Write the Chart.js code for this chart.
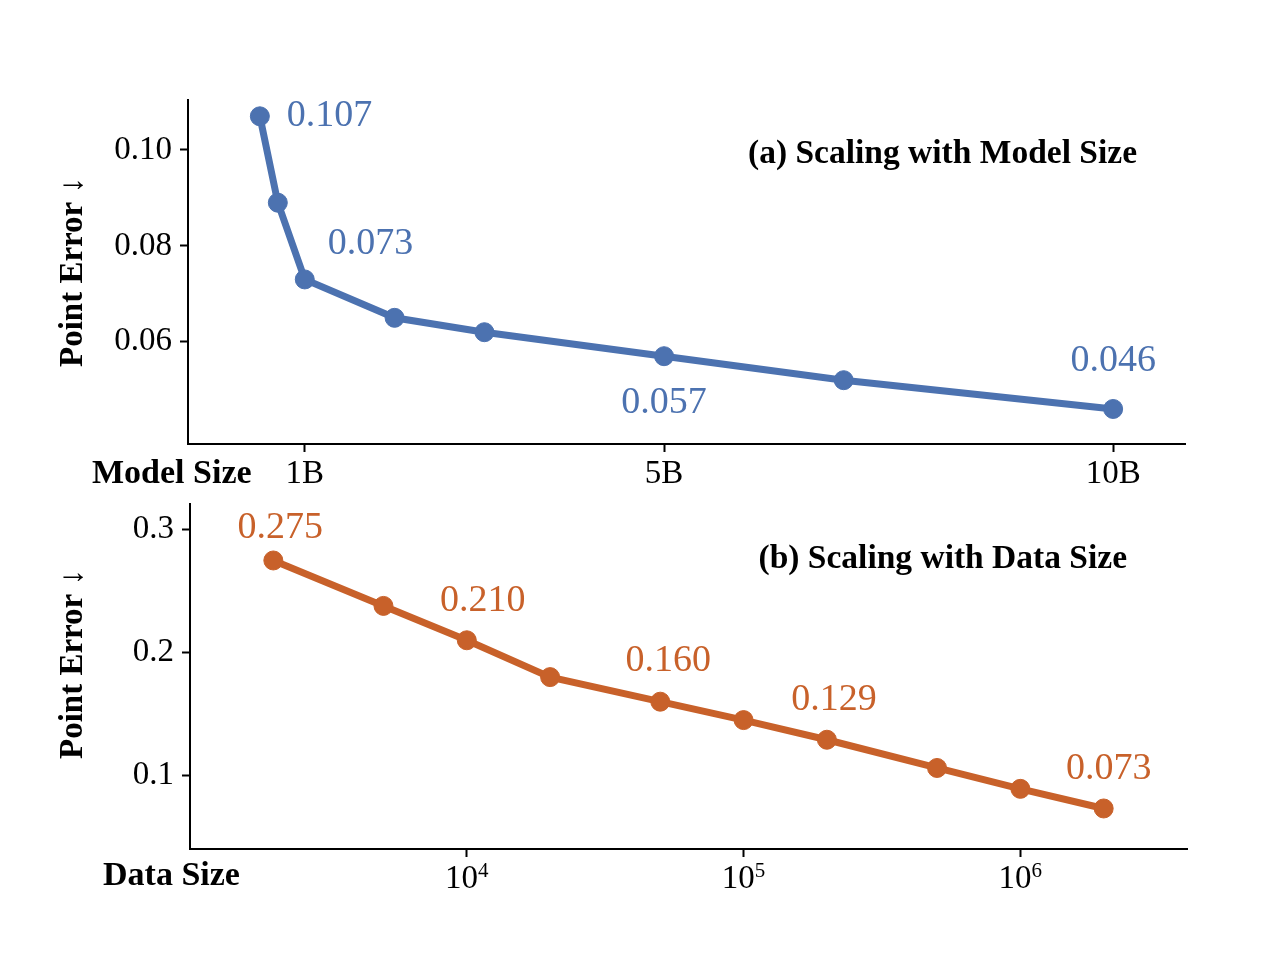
<!DOCTYPE html>
<html>
<head>
<meta charset="utf-8">
<script src="https://cdn.jsdelivr.net/npm/chart.js@4.4.1/dist/chart.umd.min.js"></script>
<style>
  html, body { margin: 0; padding: 0; background: #fff; }
  #wrap { position: relative; width: 1280px; height: 960px; }
  .panel { position: absolute; left: 0; width: 1280px; }
  #panelA { top: 0; height: 490px; }
  #panelB { top: 460px; height: 500px; }
</style>
</head>
<body>
<div id="wrap">
  <div class="panel" id="panelA"><canvas id="chartA" width="1280" height="490"></canvas></div>
  <div class="panel" id="panelB"><canvas id="chartB" width="1280" height="500"></canvas></div>
</div>
<script>
// (a) model size sweep, sizes in billions of parameters
var modelSizes      = [0.5, 0.7, 1, 2, 3, 5, 7, 10];
var modelErrors     = [0.107, 0.089, 0.073, 0.065, 0.062, 0.057, 0.052, 0.046];
var modelTicks      = [1, 5, 10];
var modelTickLabels = ['1B', '5B', '10B'];
var modelErrTicks   = [0.06, 0.08, 0.10];
var modelErrLabels  = ['0.06', '0.08', '0.10'];
var modelLabeled    = [0, 2, 5, 7];   // points that get a value label

// (b) data size sweep (log axis, ticks are powers of ten)
var dataSizes      = [2e3, 5e3, 1e4, 2e4, 5e4, 1e5, 2e5, 5e5, 1e6, 2e6];
var dataErrors     = [0.275, 0.238, 0.210, 0.180, 0.160, 0.145, 0.129, 0.106, 0.089, 0.073];
var dataTicks      = [1e4, 1e5, 1e6];
var dataTickExps   = ['4', '5', '6'];
var dataErrTicks   = [0.1, 0.2, 0.3];
var dataErrLabels  = ['0.1', '0.2', '0.3'];
var dataLabeled    = [0, 2, 4, 6, 9];

var BLUE   = '#4C72B0';
var ORANGE = '#C8612A';
var SERIF  = '"Liberation Serif", "Times New Roman", serif';

// where each value label sits relative to its point: [dx, dy, align]
var placeA = { 0: [27, 0, 'left'], 2: [23, -35, 'left'], 5: [0, 47, 'center'], 7: [0, -48, 'center'] };
var placeB = { 0: [7, -32, 'center'], 2: [16, -39, 'center'], 4: [8, -41, 'center'], 6: [7, -40, 'center'], 9: [5, -39, 'center'] };

function pts(xs, ys) {
  return xs.map(function(x, i) { return { x: x, y: ys[i] }; });
}

function fixedTicks(values) {
  return function(scale) {
    scale.ticks = values.map(function(v) { return { value: v }; });
  };
}

function lookup(values, labels) {
  return function(v) {
    var i = values.indexOf(v);
    return i < 0 ? '' : labels[i];
  };
}

function axisBase() {
  return {
    border: { display: true, color: '#000', width: 2 },
    grid: { display: true, drawOnChartArea: false, drawTicks: true, tickLength: 8, tickWidth: 2, tickColor: '#000' },
    ticks: { color: '#000', font: { family: SERIF, size: 33 }, padding: 3, maxRotation: 0, autoSkip: false }
  };
}

// value labels, panel title, axis names and (for the log axis) 10^n tick labels
function overlay(cfg) {
  return {
    id: 'overlay',
    afterDraw: function(chart) {
      var ctx = chart.ctx;
      var meta = chart.getDatasetMeta(0);
      ctx.save();
      ctx.textBaseline = 'middle';
      ctx.fillStyle = cfg.color;
      ctx.font = '38px ' + SERIF;
      cfg.labeled.forEach(function(i) {
        var p = cfg.place[i], el = meta.data[i];
        ctx.textAlign = p[2];
        ctx.fillText(cfg.values[i].toFixed(3), el.x + p[0], el.y + p[1]);
      });

      ctx.fillStyle = '#000';
      if (cfg.powTicks) {
        var xs = chart.scales.x, base = chart.chartArea.bottom + 39;
        ctx.textBaseline = 'alphabetic';
        ctx.textAlign = 'left';
        cfg.powTicks.forEach(function(v, i) {
          ctx.font = '33px ' + SERIF;
          var w1 = ctx.measureText('10').width;
          ctx.font = '21px ' + SERIF;
          var w2 = ctx.measureText(cfg.powExps[i]).width;
          var left = xs.getPixelForValue(v) - (w1 + w2) / 2;
          ctx.font = '33px ' + SERIF;
          ctx.fillText('10', left, base);
          ctx.font = '21px ' + SERIF;
          ctx.fillText(cfg.powExps[i], left + w1, base - 11);
        });
        ctx.textBaseline = 'middle';
      }

      ctx.font = 'bold 33.5px ' + SERIF;
      ctx.textAlign = 'right';
      ctx.fillText(cfg.title, cfg.titlePos[0], cfg.titlePos[1]);

      ctx.font = 'bold 34px ' + SERIF;
      ctx.textAlign = 'left';
      ctx.fillText(cfg.xName, cfg.xNamePos[0], cfg.xNamePos[1]);

      ctx.font = 'bold 33px ' + SERIF;
      ctx.translate(cfg.yNamePos[0], cfg.yNamePos[1]);
      ctx.rotate(-Math.PI / 2);
      ctx.textAlign = 'center';
      ctx.fillText('Point Error \u2193', 0, 0);
      ctx.restore();
    }
  };
}

function makePanel(canvasId, opts) {
  var x = axisBase(), y = axisBase();
  x.type = opts.xType;
  x.min = opts.xRange[0]; x.max = opts.xRange[1];
  x.afterBuildTicks = fixedTicks(opts.xTicks);
  if (opts.xTickLabels) {
    x.ticks.callback = lookup(opts.xTicks, opts.xTickLabels);
  } else {
    x.ticks.display = false;   // drawn by the overlay as 10 with a raised exponent
  }
  x.afterFit = function(s) { s.height = opts.xHeight; };

  y.min = opts.yRange[0]; y.max = opts.yRange[1];
  y.afterBuildTicks = fixedTicks(opts.yTicks);
  y.ticks.callback = lookup(opts.yTicks, opts.yTickLabels);
  y.ticks.padding = 8;
  y.afterFit = function(s) { s.width = opts.yWidth; };

  return new Chart(document.getElementById(canvasId), {
    type: 'scatter',
    data: {
      datasets: [{
        data: pts(opts.xs, opts.ys),
        showLine: true,
        borderColor: opts.color,
        backgroundColor: opts.color,
        borderWidth: 7,
        pointRadius: 9.5,
        pointBorderWidth: 1,
        pointBorderColor: opts.color,
        clip: false
      }]
    },
    options: {
      responsive: false,
      animation: false,
      layout: { padding: opts.padding },
      plugins: { legend: { display: false }, tooltip: { enabled: false } },
      scales: { x: x, y: y }
    },
    plugins: [overlay(opts.overlay)]
  });
}

makePanel('chartA', {
  xs: modelSizes, ys: modelErrors, color: BLUE,
  xType: 'linear', xRange: [-0.3, 10.8], xTicks: modelTicks, xTickLabels: modelTickLabels,
  yRange: [0.0387, 0.1104], yTicks: modelErrTicks, yTickLabels: modelErrLabels,
  yWidth: 188, xHeight: 46,
  padding: { left: 0, right: 95, top: 100, bottom: 0 },
  overlay: {
    color: BLUE, values: modelErrors, labeled: modelLabeled, place: placeA,
    title: '(a) Scaling with Model Size', titlePos: [1137, 154],
    xName: 'Model Size', xNamePos: [92, 474],
    yNamePos: [73, 272]
  }
});

makePanel('chartB', {
  xs: dataSizes, ys: dataErrors, color: ORANGE,
  xType: 'logarithmic', xRange: [1e3, 4e6], xTicks: dataTicks,
  yRange: [0.04, 0.321], yTicks: dataErrTicks, yTickLabels: dataErrLabels,
  yWidth: 190, xHeight: 111,
  padding: { left: 0, right: 93, top: 44, bottom: 0 },
  overlay: {
    color: ORANGE, values: dataErrors, labeled: dataLabeled, place: placeB,
    title: '(b) Scaling with Data Size', titlePos: [1127, 99],
    xName: 'Data Size', xNamePos: [103, 416],
    yNamePos: [73, 204],
    powTicks: dataTicks, powExps: dataTickExps
  }
});
</script>
</body>
</html>
